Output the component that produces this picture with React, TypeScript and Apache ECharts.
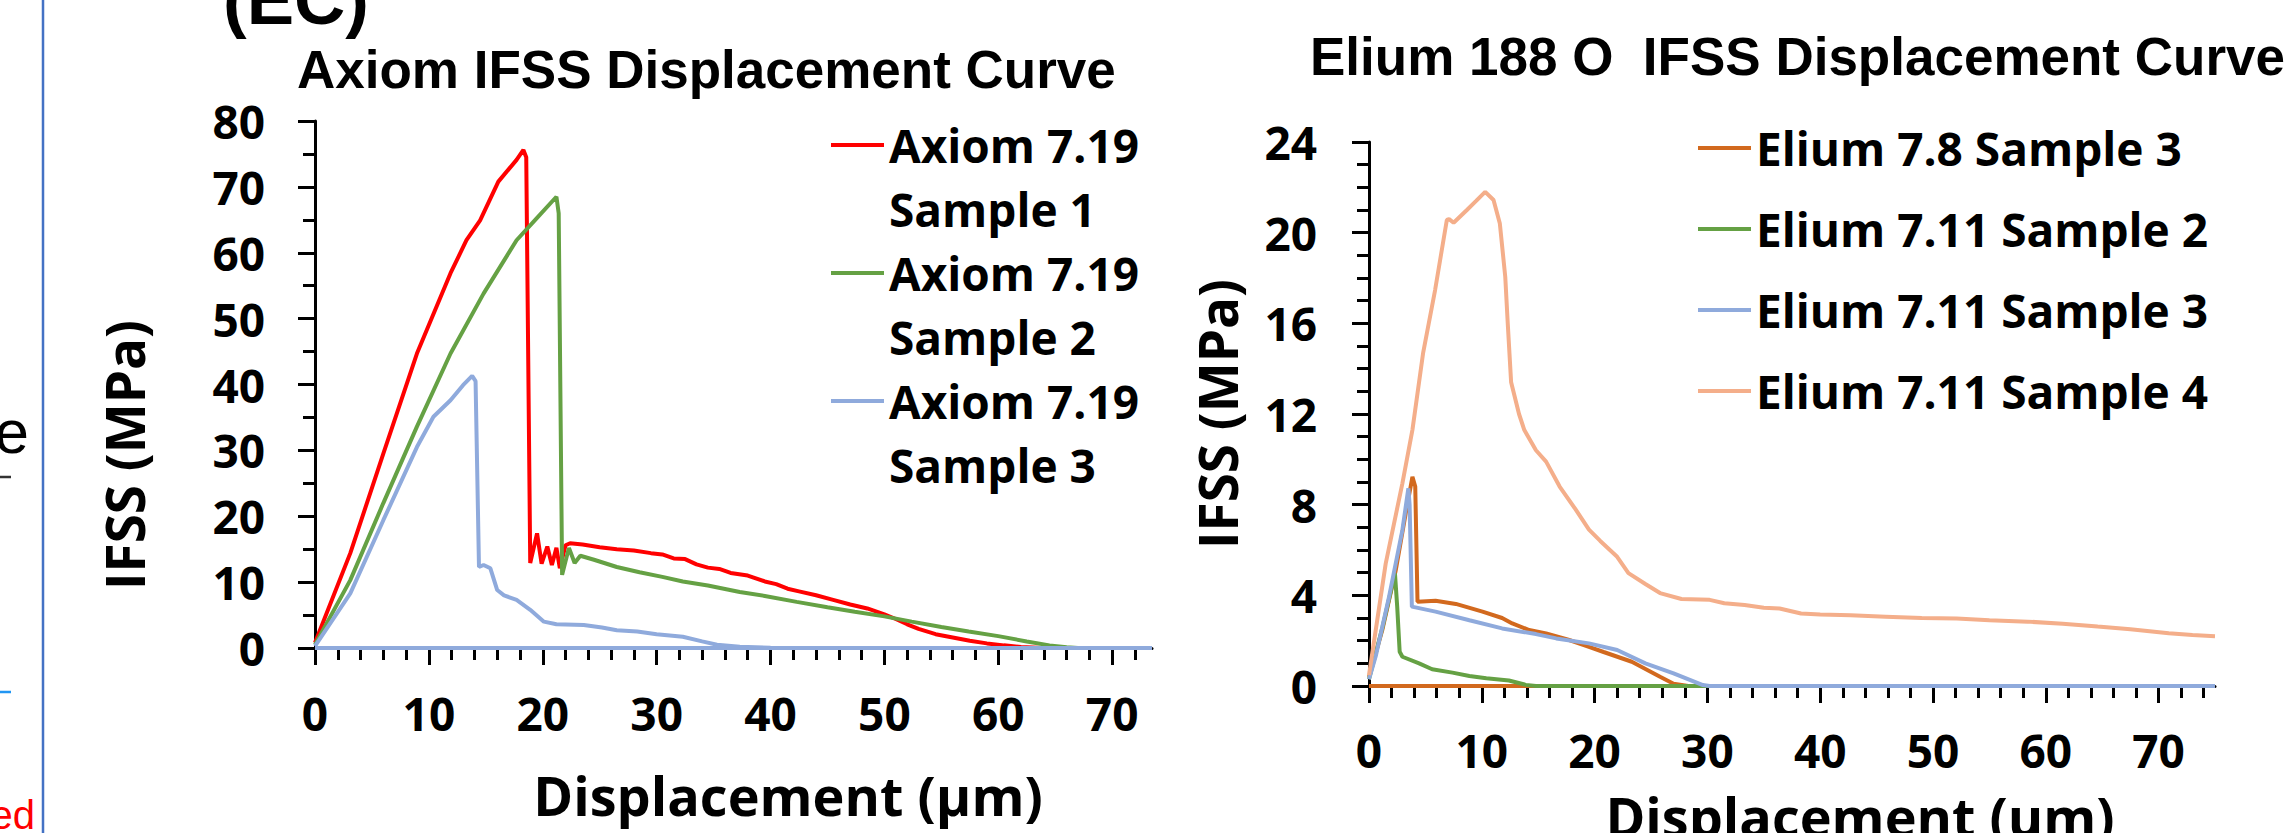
import React, { useEffect, useRef } from 'react';
import * as echarts from 'echarts';

// ---------- tick values ----------
const leftXTicks = [0, 10, 20, 30, 40, 50, 60, 70];
const leftYTicks = [0, 10, 20, 30, 40, 50, 60, 70, 80];
const rightXTicks = [0, 10, 20, 30, 40, 50, 60, 70];
const rightYTicks = [0, 4, 8, 12, 16, 20, 24];

// ---------- left chart: Axiom ----------
const axiomNames = ['Axiom 7.19 Sample 1', 'Axiom 7.19 Sample 2', 'Axiom 7.19 Sample 3'];
const axiomColors = ['#FF0000', '#65A144', '#8FAADC'];

const axiomS1: [number, number][] = [
  [0, 0.8], [3.1, 14.4], [6, 29.5], [8.95, 44.7], [11.9, 56.9], [13.3, 61.9], [14.5, 64.9],
  [16.1, 70.8], [17.7, 74.1], [18.3, 75.6], [18.55, 74.5], [18.9, 12.9], [19.5, 17.4], [19.9, 12.8],
  [20.4, 15.4], [20.8, 12.6], [21.2, 15.2], [21.5, 12.1], [22.0, 15.6], [22.4, 15.9], [23.5, 15.7],
  [25, 15.3], [26.5, 15.0], [28, 14.8], [29.5, 14.4], [30.5, 14.2], [31.5, 13.6], [32.5, 13.5],
  [33.5, 12.7], [34.5, 12.2], [35.5, 12.0], [36.5, 11.4], [38, 11.0], [39.5, 10.1], [40.5, 9.7],
  [41.5, 9.0], [42.5, 8.6], [44, 8.0], [45.5, 7.3], [47, 6.6], [48.5, 6.0], [50, 5.1], [51, 4.4],
  [52, 3.6], [53, 2.9], [54.5, 2.1], [56, 1.6], [57.5, 1.1], [59, 0.7], [60.5, 0.4], [62, 0.15],
  [64, 0], [73.5, 0],
];
const axiomS2: [number, number][] = [
  [0, 0.5], [3.1, 10.3], [6, 22], [8.95, 33.6], [11.9, 44.7], [14.8, 53.8], [17.7, 61.9],
  [19.5, 65.3], [21.2, 68.5], [21.4, 66], [21.7, 11.1], [22.3, 15.2], [22.8, 12.9], [23.3, 14.0],
  [24.5, 13.4], [26.5, 12.3], [28.5, 11.5], [30.5, 10.8], [32.3, 10.1], [34.5, 9.5], [37.3, 8.5],
  [39.5, 7.9], [42.3, 7.0], [45, 6.2], [47.4, 5.5], [50, 4.8], [52.4, 4.0], [55, 3.2], [57.4, 2.5],
  [60, 1.8], [62.5, 1.0], [64.5, 0.4], [66, 0.1], [67, 0], [73.5, 0],
];
const axiomS3: [number, number][] = [
  [0, 0.3], [3.1, 8.3], [6, 19.4], [8.95, 30.5], [10.4, 35.1], [11.9, 37.6], [13, 39.9],
  [13.8, 41.3], [14.1, 40.5], [14.4, 12.3], [14.8, 12.6], [15.4, 12.1], [16.0, 8.8], [16.6, 8.0],
  [17.7, 7.3], [18.9, 5.8], [20.1, 4.0], [21.2, 3.6], [23.6, 3.5], [25.2, 3.1], [26.5, 2.7],
  [28.3, 2.5], [30, 2.1], [32.3, 1.7], [34, 1.0], [35.3, 0.5], [37.3, 0.2], [40, 0.05], [42, 0],
  [73.5, 0], [0, 0],
];

// ---------- right chart: Elium ----------
const eliumNames = ['Elium 7.8 Sample 3', 'Elium 7.11 Sample 2', 'Elium 7.11 Sample 3', 'Elium 7.11 Sample 4'];
const eliumColors = ['#D2691E', '#65A144', '#8FAADC', '#F4AE8A'];

const elium78S3: [number, number][] = [
  [0, 0.4], [1.18, 2.47], [2.37, 5.1], [3.25, 7.6], [3.85, 9.23], [4.1, 8.8], [4.3, 3.72],
  [5.9, 3.76], [7.7, 3.62], [10.06, 3.28], [11.8, 3.0], [12.7, 2.76], [14.2, 2.47], [15.7, 2.32],
  [17.75, 2.03], [19.5, 1.73], [20.8, 1.5], [23.3, 1.07], [25.8, 0.41], [27, 0.1], [28.3, 0],
  [75, 0], [0, 0],
];
const elium711S2: [number, number][] = [
  [0, 0.3], [1.2, 2.6], [2.3, 4.97], [2.5, 3.5], [2.72, 1.51], [2.96, 1.29], [4.44, 1.0],
  [5.6, 0.74], [7.4, 0.59], [8.9, 0.44], [10.4, 0.34], [12.4, 0.24], [13.9, 0.05], [14.8, 0],
  [75, 0],
];
const elium711S3: [number, number][] = [
  [0, 0.3], [0.59, 1.3], [1.78, 3.94], [2.96, 6.88], [3.49, 8.72], [3.6, 8.0], [3.8, 3.5],
  [5.9, 3.28], [8.9, 2.9], [11.8, 2.54], [14.8, 2.29], [16.6, 2.1], [19.5, 1.88], [22, 1.59],
  [24.5, 1.0], [27, 0.56], [29.6, 0.04], [30.2, 0], [75, 0],
];
const elium711S4: [number, number][] = [
  [0, 0.48], [1.48, 5.4], [2.96, 8.94], [3.85, 11.3], [4.8, 14.7], [5.86, 17.47], [6.9, 20.56],
  [7.1, 20.6], [7.5, 20.44], [8.68, 21.0], [9.5, 21.4], [10.3, 21.8], [11.04, 21.44], [11.6, 20.4],
  [12.08, 18.05], [12.3, 16.0], [12.6, 13.4], [13.3, 12.0], [13.77, 11.29], [14.8, 10.4],
  [15.7, 9.9], [16.9, 8.8], [18.3, 7.8], [19.5, 6.9], [20.5, 6.4], [22, 5.7], [23, 4.98],
  [24.5, 4.5], [25.8, 4.1], [27.7, 3.84], [30.2, 3.8], [31.5, 3.65], [33.3, 3.57], [35, 3.45],
  [36.4, 3.42], [38.3, 3.2], [40, 3.15], [42.7, 3.12], [45.8, 3.06], [49, 3.0], [52.1, 2.98],
  [55, 2.9], [58.4, 2.84], [61.5, 2.75], [64.6, 2.62], [67.5, 2.5], [70.9, 2.33], [73, 2.25],
  [75, 2.2],
];

const axiomData = [axiomS1, axiomS2, axiomS3];
const eliumData = [elium78S3, elium711S2, elium711S3, elium711S4];

const LABEL_FONT = 'Open Sans';
const TITLE_FONT = '"Liberation Sans", Arial, sans-serif';

function xAxisCfg(gridIndex: number, max: number, ticks: number[], margin: number) {
  return {
    type: 'value',
    gridIndex,
    min: 0,
    max,
    interval: 10,
    axisLine: { show: true, onZero: false, lineStyle: { color: '#000', width: 3 } },
    axisTick: { show: true, length: 17, customValues: ticks, lineStyle: { color: '#000', width: 3 } },
    minorTick: { show: true, splitNumber: 5, length: 12, lineStyle: { color: '#000', width: 3 } },
    axisLabel: {
      customValues: ticks,
      margin,
      fontFamily: LABEL_FONT,
      fontWeight: 'bold',
      fontSize: 46,
      color: '#000',
    },
    splitLine: { show: false },
    minorSplitLine: { show: false },
  };
}

function yAxisCfg(gridIndex: number, max: number, interval: number, minorSplit: number, ticks: number[], margin: number) {
  return {
    type: 'value',
    gridIndex,
    min: 0,
    max,
    interval,
    axisLine: { show: true, onZero: false, lineStyle: { color: '#000', width: 3 } },
    axisTick: { show: true, length: 17, customValues: ticks, lineStyle: { color: '#000', width: 3 } },
    minorTick: { show: true, splitNumber: minorSplit, length: 12, lineStyle: { color: '#000', width: 3 } },
    axisLabel: {
      customValues: ticks,
      margin,
      fontFamily: LABEL_FONT,
      fontWeight: 'bold',
      fontSize: 46,
      color: '#000',
    },
    splitLine: { show: false },
    minorSplitLine: { show: false },
  };
}

function txt(x: number, y: number, text: string, font: string, fill: string, align: string, lineHeight: number, rotation = 0) {
  return {
    type: 'text',
    x,
    y,
    rotation,
    silent: true,
    style: {
      text,
      font,
      fill,
      lineHeight,
      align,
      verticalAlign: 'middle',
      textAlign: align,
      textVerticalAlign: 'middle',
    },
  };
}

function buildOption() {
  const series: any[] = [];
  axiomData.forEach((d, i) => {
    series.push({
      type: 'line',
      name: axiomNames[i],
      xAxisIndex: 0,
      yAxisIndex: 0,
      data: d,
      showSymbol: false,
      symbol: 'none',
      lineStyle: { color: axiomColors[i], width: 4 },
      itemStyle: { color: axiomColors[i] },
    });
  });
  eliumData.forEach((d, i) => {
    series.push({
      type: 'line',
      name: eliumNames[i],
      xAxisIndex: 1,
      yAxisIndex: 1,
      data: d,
      showSymbol: false,
      symbol: 'none',
      lineStyle: { color: eliumColors[i], width: 4 },
      itemStyle: { color: eliumColors[i] },
    });
  });

  return {
    animation: false,
    backgroundColor: '#fff',
    grid: [
      { left: 315, top: 121, width: 837, height: 527, containLabel: false },
      { left: 1369, top: 142, width: 846, height: 544, containLabel: false },
    ],
    xAxis: [xAxisCfg(0, 73.5, leftXTicks, 42), xAxisCfg(1, 75, rightXTicks, 41)],
    yAxis: [yAxisCfg(0, 80, 10, 2, leftYTicks, 50), yAxisCfg(1, 24, 4, 4, rightYTicks, 52)],
    legend: [
      {
        data: axiomNames,
        orient: 'vertical',
        left: 831,
        top: 49,
        padding: 0,
        icon: 'rect',
        itemWidth: 53,
        itemHeight: 4,
        itemGap: -64,
        itemStyle: { borderWidth: 0 },
        selectedMode: false,
        formatter: (name: string) => '\n' + name.replace(' Sample', '\nSample'),
        textStyle: { fontFamily: LABEL_FONT, fontWeight: 'bold', fontSize: 46, lineHeight: 64, color: '#000' },
      },
      {
        data: eliumNames,
        orient: 'vertical',
        left: 1698,
        top: 123,
        padding: 0,
        icon: 'rect',
        itemWidth: 53,
        itemHeight: 4,
        itemGap: 31,
        itemStyle: { borderWidth: 0 },
        selectedMode: false,
        textStyle: { fontFamily: LABEL_FONT, fontWeight: 'bold', fontSize: 46, lineHeight: 50, color: '#000' },
      },
    ],
    series,
    graphic: [
      // fragments of the neighbouring panel on the far left
      { type: 'line', silent: true, shape: { x1: 43, y1: 0, x2: 43, y2: 833 }, style: { stroke: '#4472C4', lineWidth: 2.5 } },
      txt(29, 431, 'e', '62px "Liberation Sans", Arial, sans-serif', '#000', 'right', 62),
      { type: 'line', silent: true, shape: { x1: 0, y1: 477, x2: 11, y2: 477 }, style: { stroke: '#333', lineWidth: 2.5 } },
      { type: 'line', silent: true, shape: { x1: 0, y1: 692, x2: 11, y2: 692 }, style: { stroke: '#2196F3', lineWidth: 2.5 } },
      txt(35, 815, 'ed', '40px "Liberation Sans", Arial, sans-serif', '#FF0000', 'right', 40),
      // panel tag
      txt(223, -1, '(EC)', 'bold 71px ' + TITLE_FONT, '#000', 'left', 71),
      // chart titles
      txt(297, 69, 'Axiom IFSS Displacement Curve', 'bold 53px ' + TITLE_FONT, '#000', 'left', 53),
      txt(1310, 56, 'Elium 188 O \u00A0IFSS Displacement Curve', 'bold 53px ' + TITLE_FONT, '#000', 'left', 53),
      // axis titles
      txt(788, 795, 'Displacement (µm)', 'bold 54px "Open Sans"', '#000', 'center', 40),
      txt(1860, 816, 'Displacement (um)', 'bold 54px "Open Sans"', '#000', 'center', 40),
      txt(124, 455, 'IFSS (MPa)', 'bold 53px "Open Sans"', '#000', 'center', 53, Math.PI / 2),
      txt(1217, 414, 'IFSS (MPa)', 'bold 53px "Open Sans"', '#000', 'center', 53, Math.PI / 2),
    ],
  };
}

export default function App() {
  const ref = useRef<HTMLDivElement>(null);
  useEffect(() => {
    if (!ref.current) return;
    const chart = echarts.init(ref.current, null, { renderer: 'svg' });
    chart.setOption(buildOption() as any);
    return () => {
      chart.dispose();
    };
  }, []);
  return (
    <div
      ref={ref}
      style={{ position: 'absolute', left: 0, top: 0, width: 2286, height: 833, background: '#fff' }}
    />
  );
}
